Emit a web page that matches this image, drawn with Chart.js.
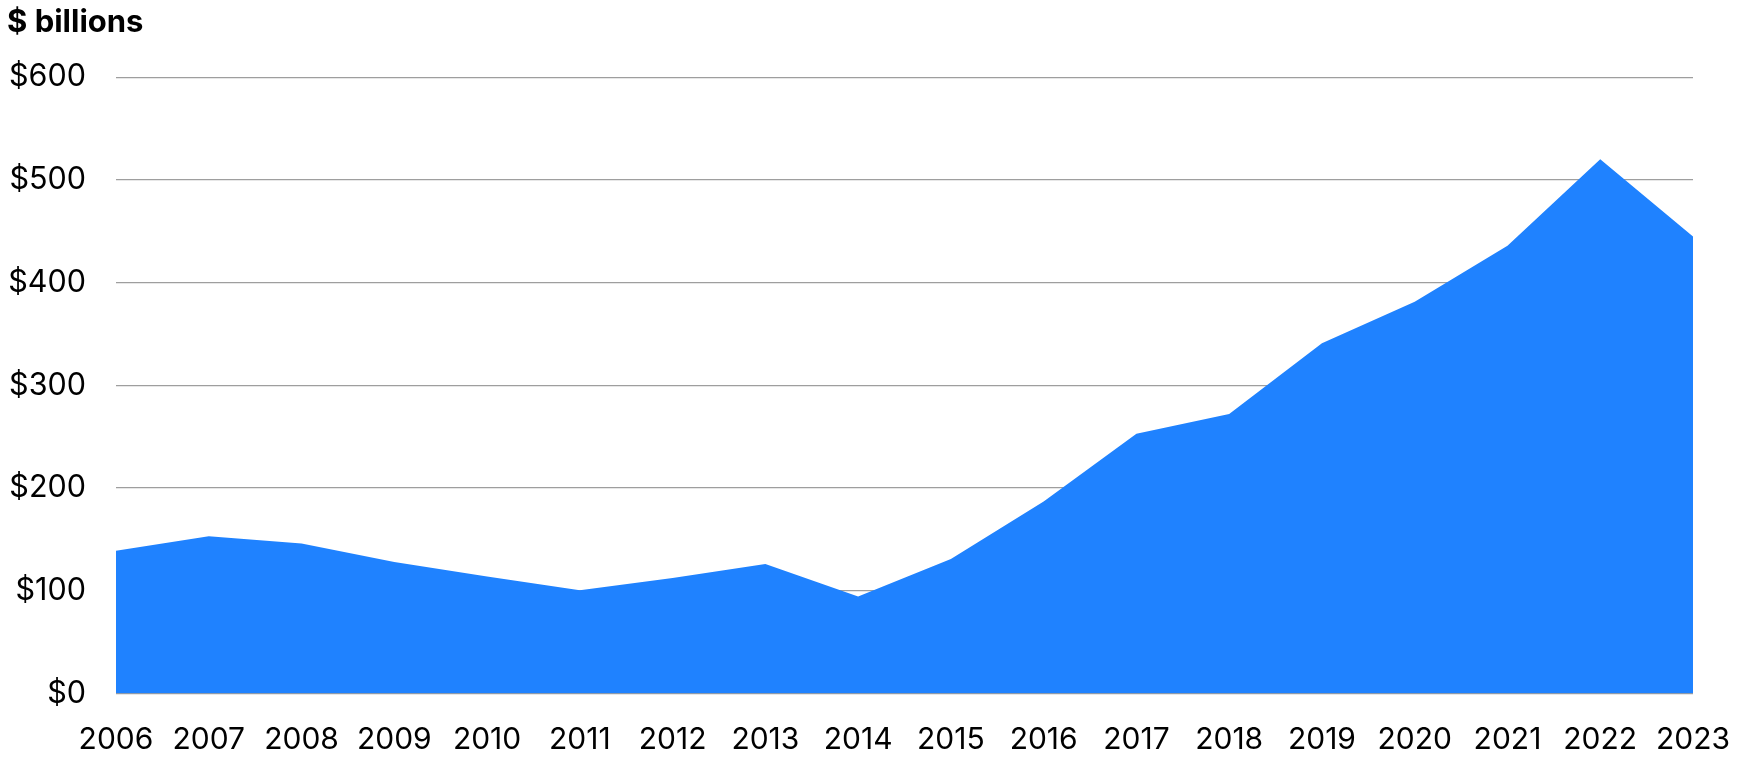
<!DOCTYPE html>
<html>
<head>
<meta charset="utf-8">
<script src="https://cdn.jsdelivr.net/npm/chart.js@4"></script>
<style>
  html, body { margin: 0; padding: 0; background: #fff; overflow: hidden; }
  canvas { display: block; }
</style>
</head>
<body>
<canvas id="c" width="1760" height="765" style="width:1760px;height:765px"></canvas>
<script>
const years = ['2006','2007','2008','2009','2010','2011','2012','2013','2014','2015','2016','2017','2018','2019','2020','2021','2022','2023'];
const values = [139, 153, 146, 128, 114, 100.5, 112.5, 126, 94.5, 131, 187, 253, 272, 341, 381.5, 436, 520, 445];
const yTicks = [0, 100, 200, 300, 400, 500, 600];
const unitLabel = '$ billions';

Chart.defaults.font.family = 'Inter, "Liberation Sans", sans-serif';
Chart.defaults.color = '#000';

new Chart(document.getElementById('c'), {
  type: 'line',
  data: {
    labels: years,
    datasets: [{
      data: values,
      fill: 'origin',
      backgroundColor: '#1f82ff',
      borderWidth: 0,
      borderColor: '#1f82ff',
      pointRadius: 0,
      tension: 0
    }]
  },
  options: {
    responsive: false,
    maintainAspectRatio: false,
    devicePixelRatio: 1,
    animation: false,
    layout: { padding: { left: 7, right: 67, top: 0, bottom: 0 } },
    plugins: {
      legend: { display: false },
      tooltip: { enabled: false },
      title: {
        display: true,
        text: unitLabel,
        align: 'start',
        color: '#000',
        font: { size: 31, weight: 'bold' },
        padding: { top: 4, bottom: 36 }
      }
    },
    scales: {
      x: {
        offset: false,
        afterFit: (scale) => { scale.height = 71.5; },
        grid: { display: false, drawTicks: false },
        border: { display: false },
        ticks: { font: { size: 30 }, padding: 28, maxRotation: 0, autoSkip: false }
      },
      y: {
        min: 0,
        max: 600,
        afterBuildTicks: (scale) => { scale.ticks = yTicks.map(v => ({ value: v })); },
        afterFit: (scale) => { scale.width = 109; },
        grid: { color: '#9e9e9e', lineWidth: 1.3, drawTicks: false },
        border: { display: false },
        ticks: {
          font: { size: 30.5 },
          padding: 30,
          callback: (v) => '$' + v
        }
      }
    }
  }
});
</script>
</body>
</html>
